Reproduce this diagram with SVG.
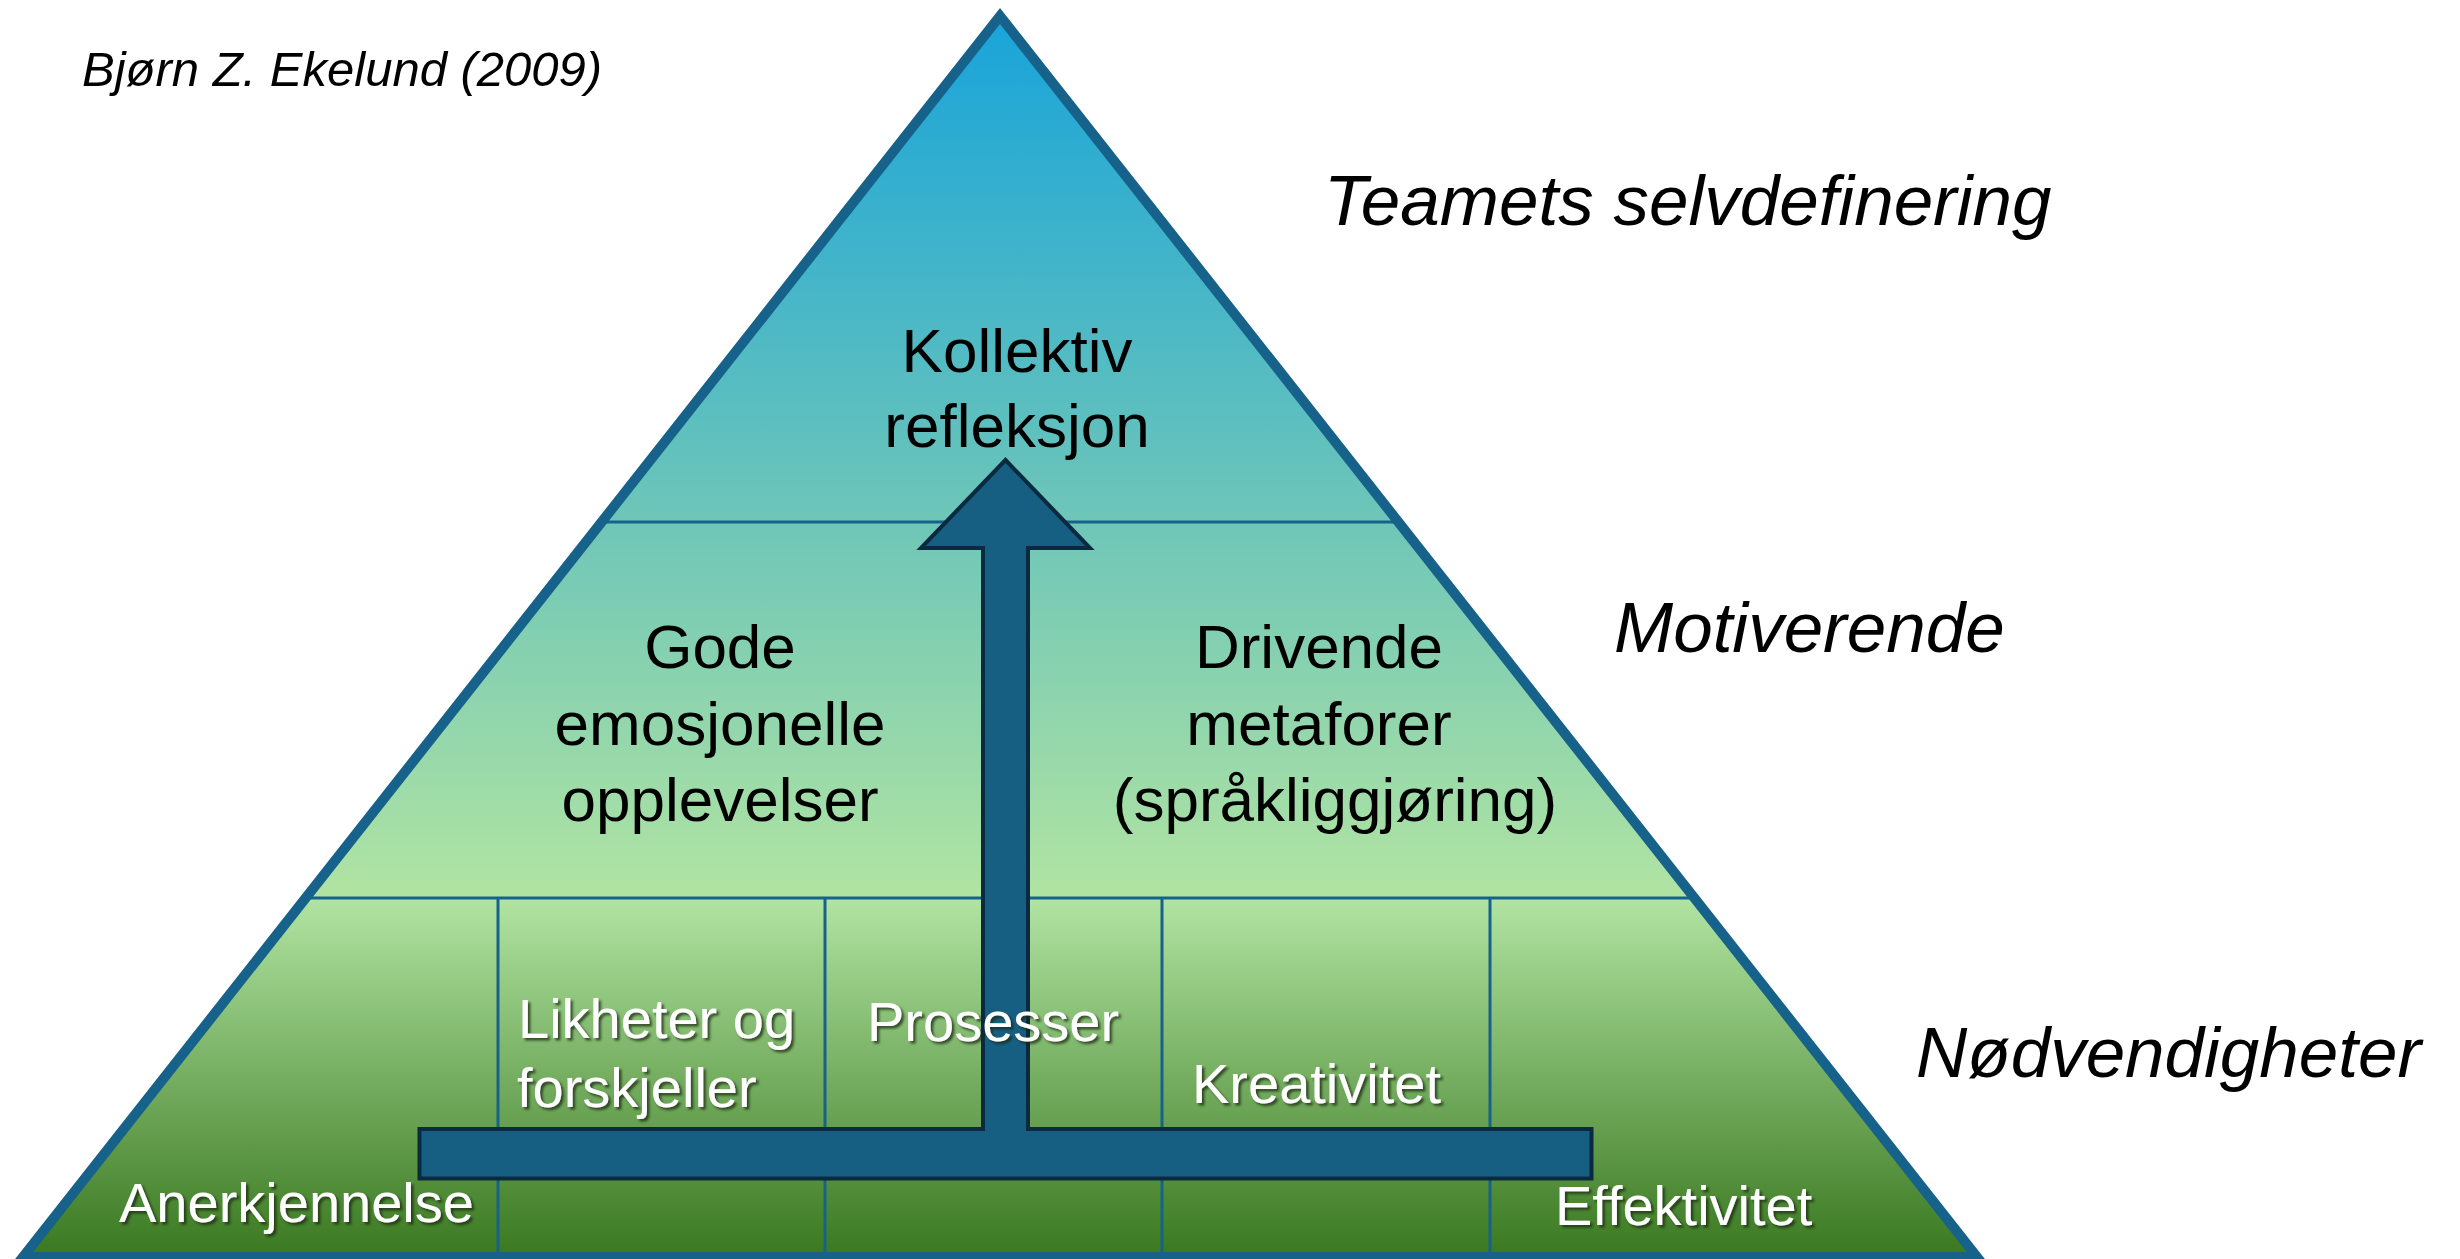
<svg xmlns="http://www.w3.org/2000/svg" width="2460" height="1259" viewBox="0 0 2460 1259">
<defs>
<linearGradient id="pyr" gradientUnits="userSpaceOnUse" x1="0" y1="8" x2="0" y2="1257">
<stop offset="0" stop-color="#17a3da"/>
<stop offset="0.41" stop-color="#6ec6b8"/>
<stop offset="0.7126" stop-color="#b1e4a2"/>
<stop offset="1" stop-color="#3a7820"/>
</linearGradient>
<filter id="shadow" x="-10%" y="-20%" width="130%" height="150%">
<feDropShadow dx="2.5" dy="2.5" stdDeviation="1.2" flood-color="#1e2a18" flood-opacity="0.75"/>
</filter>
<style>
.div{stroke:#17628a;stroke-width:3;fill:none}
.lbl{font-family:"Liberation Sans",Arial,sans-serif;font-size:62px;fill:#000;text-anchor:middle}
.wlbl{font-family:"Liberation Sans",Arial,sans-serif;font-size:56px;fill:#fff;filter:url(#shadow)}
.side{font-family:"Liberation Sans",Arial,sans-serif;font-style:italic;font-size:71px;fill:#000}
.credit{font-family:"Liberation Sans",Arial,sans-serif;font-style:italic;font-size:49px;fill:#000}
</style>
</defs>
<rect width="2460" height="1259" fill="#fff"/>
<g id="pyramid">
<polygon points="1000,16 1977,1257 23,1257" fill="url(#pyr)" stroke="#17628a" stroke-width="10" stroke-linejoin="miter"/>
<line class="div" x1="603" y1="522" x2="1397" y2="522"/>
<line class="div" x1="307" y1="898" x2="1693" y2="898"/>
<line class="div" x1="498" y1="898" x2="498" y2="1252"/>
<line class="div" x1="825" y1="898" x2="825" y2="1252"/>
<line class="div" x1="1162" y1="898" x2="1162" y2="1252"/>
<line class="div" x1="1490" y1="898" x2="1490" y2="1252"/>
</g>
<g id="connectors">
<path id="arrow" d="M1005.5,460 L1090,548 L1028,548 L1028,1129 L1591.5,1129 L1591.5,1178.5 L419.5,1178.5 L419.5,1129 L983,1129 L983,548 L921,548 Z" fill="#165f82" stroke="#0b2a3f" stroke-width="4" stroke-linejoin="miter"/>
</g>
<g id="node-top">
<text class="lbl" x="1017" y="372">Kollektiv</text>
<text class="lbl" x="1017" y="447">refleksjon</text>
</g>
<g id="node-gode">
<text class="lbl" x="720" y="668">Gode</text>
<text class="lbl" x="720" y="745">emosjonelle</text>
<text class="lbl" x="720" y="821">opplevelser</text>
</g>
<g id="node-drivende">
<text class="lbl" x="1319" y="668">Drivende</text>
<text class="lbl" x="1319" y="745">metaforer</text>
<text class="lbl" x="1335" y="821">(språkliggjøring)</text>
</g>
<g id="node-anerkjennelse"><text class="wlbl" x="119" y="1222">Anerkjennelse</text></g>
<g id="node-likheter">
<text class="wlbl" x="518" y="1038">Likheter og</text>
<text class="wlbl" x="517" y="1107">forskjeller</text>
</g>
<g id="node-prosesser"><text class="wlbl" x="867" y="1041">Prosesser</text></g>
<g id="node-kreativitet"><text class="wlbl" x="1192" y="1103">Kreativitet</text></g>
<g id="node-effektivitet"><text class="wlbl" x="1555" y="1225">Effektivitet</text></g>
<g id="side-labels">
<text class="credit" x="82" y="86">Bjørn Z. Ekelund (2009)</text>
<text class="side" x="1324" y="225">Teamets selvdefinering</text>
<text class="side" x="1614" y="652">Motiverende</text>
<text class="side" x="1916" y="1077">Nødvendigheter</text>
</g>
</svg>
